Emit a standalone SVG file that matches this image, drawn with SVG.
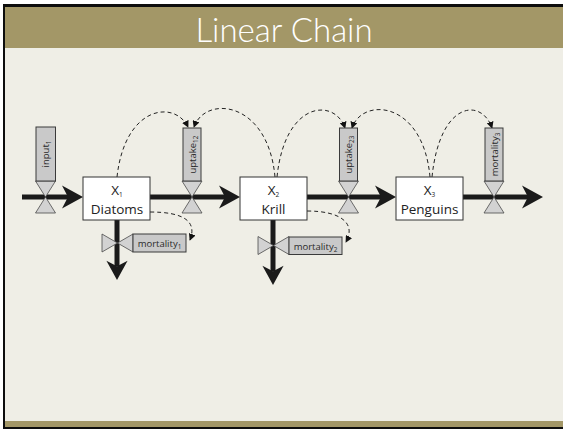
<svg xmlns="http://www.w3.org/2000/svg" width="563" height="429" viewBox="0 0 563 429">
  <defs>
    <style>
      .flow { stroke: #1a1a1a; stroke-width: 5; fill: none; }
      .head { fill: #1a1a1a; }
      .valve { fill: #d2d2d2; stroke: #4a4a4a; stroke-width: 0.8; }
      .lbl { fill: #c9c9c9; stroke: #3a3a3a; stroke-width: 1; }
      .node { fill: #ffffff; stroke: #333333; stroke-width: 1; }
      .dash { fill: none; stroke: #222222; stroke-width: 1; stroke-dasharray: 4 3; }
      .ntxt { font-family: "Open Sans", "DejaVu Sans", sans-serif; font-size: 13.5px; fill: #222222; text-anchor: middle; }
      .ltxt { font-family: "Open Sans", "DejaVu Sans", sans-serif; font-size: 9.5px; fill: #2a2a2a; text-anchor: middle; }
      .sub { font-size: 6.5px; }
      .title { font-family: Lato, "Open Sans", sans-serif; font-weight: 300; font-size: 33px; fill: #ffffff; text-anchor: middle; }
    </style>
    <marker id="dashArrow" viewBox="0 0 8 8" refX="7" refY="4" markerWidth="7" markerHeight="7" markerUnits="userSpaceOnUse" orient="auto">
      <path d="M0,0 L8,4 L0,8 Z" fill="#111111"/>
    </marker>
    <!-- stealth-style head for the thick material flows, tip at origin pointing +x -->
    <path id="flowHead" d="M0,0 L-21,-11.5 L-15,0 L-21,11.5 Z"/>
    <!-- vertical valve (bow tie) centred at origin -->
    <g id="valveV">
      <path class="valve" d="M-10,-16 L10,-16 L0,0 Z"/>
      <path class="valve" d="M-10,16 L10,16 L0,0 Z"/>
    </g>
    <g id="valveH">
      <path class="valve" d="M-15.5,-9 L-15.5,9 L0,0 Z"/>
      <path class="valve" d="M15.5,-9 L15.5,9 L0,0 Z"/>
    </g>
  </defs>

  <!-- slide frame -->
  <rect x="0" y="0" width="563" height="429" fill="#ffffff"/>
  <rect x="3" y="4" width="560" height="425" fill="#0d0d0d"/>
  <rect x="5" y="7" width="558" height="420" fill="#a39767"/>
  <rect x="5" y="48" width="558" height="373" fill="#efeee6"/>
  <text class="title" x="284" y="42">Linear Chain</text>

  <!-- connectors: material flows, valves and information links -->
  <g id="connectors">
    <line class="flow" x1="22" y1="197" x2="68" y2="197"/>
    <line class="flow" x1="150" y1="197" x2="225" y2="197"/>
    <line class="flow" x1="307" y1="197" x2="381" y2="197"/>
    <line class="flow" x1="463" y1="197" x2="528" y2="197"/>
    <line class="flow" x1="117" y1="220" x2="117" y2="266"/>
    <line class="flow" x1="273" y1="220" x2="273" y2="271"/>
    <use href="#flowHead" class="head" transform="translate(83,197)"/>
    <use href="#flowHead" class="head" transform="translate(240,197)"/>
    <use href="#flowHead" class="head" transform="translate(396,197)"/>
    <use href="#flowHead" class="head" transform="translate(543,197)"/>
    <use href="#flowHead" class="head" transform="translate(117,280) rotate(90) scale(0.92)"/>
    <use href="#flowHead" class="head" transform="translate(273,285) rotate(90) scale(0.92)"/>

    <use href="#valveV" transform="translate(45.5,197)"/>
    <use href="#valveV" transform="translate(192,197)"/>
    <use href="#valveV" transform="translate(348.5,197)"/>
    <use href="#valveV" transform="translate(494,197)"/>
    <use href="#valveH" transform="translate(117.5,243)"/>
    <use href="#valveH" transform="translate(273.5,245.5)"/>

    <path class="dash" marker-end="url(#dashArrow)" d="M117,177 C125,105 175,100 188,127"/>
    <path class="dash" marker-end="url(#dashArrow)" d="M275,177 C268,100 205,95 194,127"/>
    <path class="dash" marker-end="url(#dashArrow)" d="M277,177 C285,100 335,98 345,128"/>
    <path class="dash" marker-end="url(#dashArrow)" d="M430,177 C423,100 362,97 352,128"/>
    <path class="dash" marker-end="url(#dashArrow)" d="M432,177 C440,100 482,98 492,128"/>
    <path class="dash" marker-end="url(#dashArrow)" d="M150,212 C185,212 197,222 190,240"/>
    <path class="dash" marker-end="url(#dashArrow)" d="M307,211 C342,211 356,224 346,242"/>
  </g>

  <!-- rate labels -->
  <g id="input1">
    <rect class="lbl" x="36" y="127" width="19.5" height="54"/>
    <text class="ltxt" transform="translate(49,154) rotate(-90)">input<tspan class="sub" dy="2">1</tspan></text>
  </g>
  <g id="uptake12">
    <rect class="lbl" x="183" y="128" width="18" height="53"/>
    <text class="ltxt" transform="translate(195.5,154.5) rotate(-90)">uptake<tspan class="sub" dy="2">12</tspan></text>
  </g>
  <g id="uptake23">
    <rect class="lbl" x="339.5" y="128" width="18" height="53"/>
    <text class="ltxt" transform="translate(352,154.5) rotate(-90)">uptake<tspan class="sub" dy="2">23</tspan></text>
  </g>
  <g id="mortality3">
    <rect class="lbl" x="485" y="128" width="18" height="53"/>
    <text class="ltxt" transform="translate(497.5,154.5) rotate(-90)">mortality<tspan class="sub" dy="2">3</tspan></text>
  </g>
  <g id="mortality1">
    <rect class="lbl" x="133" y="234" width="53" height="18"/>
    <text class="ltxt" x="159.5" y="246.5">mortality<tspan class="sub" dy="2">1</tspan></text>
  </g>
  <g id="mortality2">
    <rect class="lbl" x="289" y="237" width="53" height="17.5"/>
    <text class="ltxt" x="315.5" y="249.5">mortality<tspan class="sub" dy="2">2</tspan></text>
  </g>

  <!-- stocks -->
  <g id="X1">
    <rect class="node" x="83" y="177" width="67" height="43"/>
    <text class="ntxt" x="117" y="195">X<tspan class="sub" font-size="8px" dy="2">1</tspan></text>
    <text class="ntxt" x="117" y="214">Diatoms</text>
  </g>
  <g id="X2">
    <rect class="node" x="240" y="177" width="67" height="43"/>
    <text class="ntxt" x="273.5" y="195">X<tspan class="sub" font-size="8px" dy="2">2</tspan></text>
    <text class="ntxt" x="273.5" y="214">Krill</text>
  </g>
  <g id="X3">
    <rect class="node" x="396" y="177" width="67" height="43"/>
    <text class="ntxt" x="429.5" y="195">X<tspan class="sub" font-size="8px" dy="2">3</tspan></text>
    <text class="ntxt" x="429.5" y="214">Penguins</text>
  </g>
</svg>
